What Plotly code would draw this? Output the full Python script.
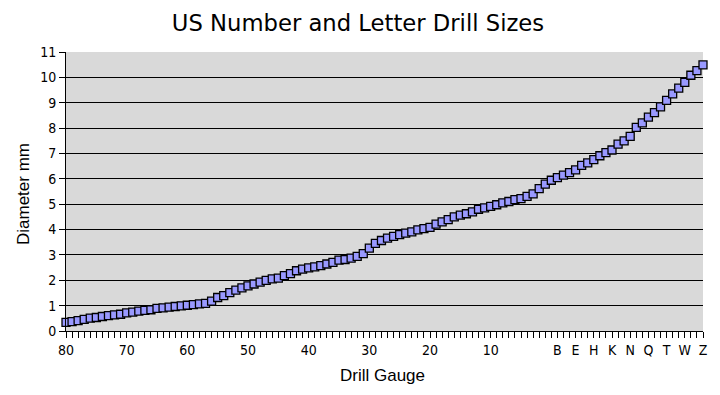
import plotly.graph_objects as go

gauges = [str(n) for n in range(80, 0, -1)] + [chr(c) for c in range(ord("A"), ord("Z") + 1)]
diameter_mm = [
    0.343, 0.368, 0.406, 0.457, 0.508, 0.533, 0.572, 0.610, 0.635, 0.660,
    0.711, 0.742, 0.787, 0.813, 0.838, 0.889, 0.914, 0.940, 0.965, 0.991,
    1.016, 1.041, 1.067, 1.092, 1.181, 1.321, 1.397, 1.511, 1.613, 1.702,
    1.778, 1.854, 1.930, 1.994, 2.057, 2.083, 2.184, 2.261, 2.375, 2.438,
    2.489, 2.527, 2.578, 2.642, 2.705, 2.794, 2.819, 2.870, 2.946, 3.048,
    3.264, 3.454, 3.569, 3.658, 3.734, 3.797, 3.861, 3.912, 3.988, 4.039,
    4.089, 4.216, 4.305, 4.394, 4.496, 4.572, 4.623, 4.699, 4.801, 4.851,
    4.915, 4.978, 5.055, 5.105, 5.182, 5.220, 5.309, 5.410, 5.613, 5.791,
    5.944, 6.045, 6.147, 6.248, 6.350, 6.528, 6.629, 6.756, 6.909, 7.036,
    7.137, 7.366, 7.493, 7.671, 8.026, 8.204, 8.433, 8.611, 8.839, 9.093,
    9.347, 9.576, 9.804, 10.084, 10.262, 10.490,
]
shown_labels = ["80", "70", "60", "50", "40", "30", "20", "10",
                "B", "E", "H", "K", "N", "Q", "T", "W", "Z"]
y_ticks = list(range(0, 12))

x_idx = list(range(len(gauges)))
tick_text = [g if g in shown_labels else "" for g in gauges]

TITLE_FONT = "DejaVu Sans"
TICK_FONT = "Liberation Sans Narrow, DejaVu Sans Condensed, Liberation Sans"
AXT_FONT = "Liberation Sans"

# page body has an 8px default margin, so the figure is sized to fit the window
W, H = 712, 387

fig = go.Figure()
fig.add_trace(go.Scatter(
    x=x_idx, y=diameter_mm, mode="lines+markers",
    line=dict(color="#9999FF", width=1),
    marker=dict(symbol="square", size=8, color="#9999FF",
                line=dict(color="#000000", width=1.3)),
    cliponaxis=False, showlegend=False,
    hovertext=gauges,
))

fig.update_layout(
    width=W, height=H,
    margin=dict(l=58, r=17, t=44, b=64),
    paper_bgcolor="white", plot_bgcolor="#D9D9D9",
    font=dict(family=AXT_FONT, color="black"),
    title=dict(text="US Number and Letter Drill Sizes", x=350 / W, xanchor="center",
               xref="container", yref="container",
               y=1 - 15 / H, yanchor="middle", font=dict(size=22.7, family=TITLE_FONT)),
    annotations=[
        dict(text="Drill Gauge", xref="paper", yref="paper", x=0.5, y=0,
             xanchor="center", yanchor="middle", xshift=-2, yshift=-44,
             showarrow=False, font=dict(size=17, family=AXT_FONT)),
        dict(text="Diameter mm", xref="paper", yref="paper", x=0, y=0.491,
             xanchor="center", yanchor="middle", xshift=-43, textangle=-90,
             showarrow=False, font=dict(size=17, family=AXT_FONT)),
    ],
)
fig.update_xaxes(
    range=[0, len(gauges) - 1], tickmode="array", tickvals=x_idx, ticktext=tick_text,
    ticks="outside", ticklen=6, tickwidth=1, tickcolor="black",
    showgrid=False, zeroline=False, showline=True, linecolor="black", linewidth=1,
    tickfont=dict(size=14, family=TICK_FONT), tickangle=0, automargin=False,
)
fig.update_yaxes(
    range=[0, 11], tickmode="array", tickvals=y_ticks,
    ticks="outside", ticklen=6, tickwidth=1, tickcolor="black",
    showgrid=True, gridcolor="black", gridwidth=1,
    zeroline=False, showline=True, linecolor="black", linewidth=1,
    tickfont=dict(size=14, family=TICK_FONT), automargin=False,
)

fig.write_html("out.html")
